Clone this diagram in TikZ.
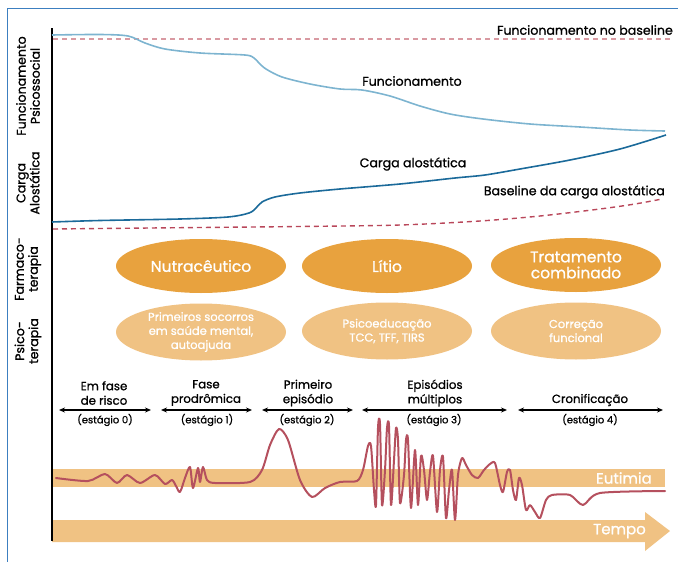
\documentclass[tikz,border=0pt]{standalone}
\usepackage{fontspec}
\setmainfont{Poppins}[FakeBold=1]
\usetikzlibrary{arrows.meta,shapes.geometric}
\definecolor{orD}{HTML}{E8A23E}
\definecolor{orL}{HTML}{F0C283}
\definecolor{funcC}{HTML}{7DB4D0}
\definecolor{cargaC}{HTML}{1B6A9A}
\definecolor{baseF}{HTML}{D99AA2}
\definecolor{baseC}{HTML}{B9475A}
\definecolor{waveC}{HTML}{B5505E}
\definecolor{frameC}{HTML}{3C7FC0}
\tikzset{
  lbl/.style={font=\fontsize{12.6}{14}\selectfont, text=black, inner sep=0pt},
  sidelbl/.style={font=\fontsize{12.6}{14}\selectfont, rotate=90, align=center, inner sep=0pt},
  bigell/.style={ellipse, fill=orD, minimum width=170pt, minimum height=54pt, text=white, align=center, font=\fontsize{15.5}{17}\selectfont, inner sep=0pt},
  smallell/.style={ellipse, fill=orL, minimum width=170pt, minimum height=57pt, text=white, align=center, font=\fontsize{11.5}{14}\selectfont, inner sep=0pt},
  stagetitle/.style={font=\fontsize{11.8}{14.5}\selectfont, align=center, inner sep=0pt},
  stagesub/.style={font=\fontsize{10}{12}\selectfont, inner sep=0pt},
  stagearrow/.style={line width=1.6pt, {Stealth[length=6pt,width=5pt]}-{Stealth[length=6pt,width=5pt]}},
  bandtext/.style={font=\fontsize{15}{17}\selectfont, text=white, inner sep=0pt, anchor=east},
}
\begin{document}
\begin{tikzpicture}[x=1pt,y=-1pt]
\useasboundingbox (0,0) rectangle (678,562);
% frame
\draw[frameC, line width=1.5pt] (7.5,562) -- (7.5,8.5) -- (678,8.5);
% bands
\fill[orL] (52,469) rectangle (665,487);
\fill[orL] (52,520) -- (645,520) -- (645,512) -- (670,531) -- (645,551) -- (645,542) -- (52,542) -- cycle;
\node[bandtext] (eut) at (652,478) {Eutimia};
\node[bandtext] (tempo) at (646,531) {Tempo};
% axis
\coordinate (axT) at (52,28);
\coordinate (axB) at (52,541);
\draw[black, line width=1.6pt] (axT) -- (axB);
% side labels
\node[sidelbl] (sl1) at (28,86) {Funcionamento\\Psicossocial};
\node[sidelbl] (sl2) at (28,183) {Carga\\Alostática};
\node[sidelbl] (sl3) at (28,269) {Farmaco-\\terapia};
\node[sidelbl] (sl4) at (28,341) {Psico-\\terapia};
% func baseline
\coordinate (fb1) at (53,39);
\coordinate (fb2) at (670,39);
\draw[baseF, line width=1.3pt, dash pattern=on 5pt off 4pt] (fb1) -- (fb2);
\node[lbl, anchor=east] (fbl) at (673,30) {Funcionamento no baseline};
% functioning curve
\draw[funcC, line width=1.6pt] plot[smooth, tension=0.5] coordinates {(52,35) (100,34.5) (128,36) (145,43) (165,49) (200,53) (245,55) (254,58) (259,63) (266,69) (282,77) (310,84) (340,89) (362,90) (390,96) (420,106) (450,114) (483,119) (530,124) (580,127) (630,130) (665,131)};
\node[lbl] (funcl) at (412,81) {Funcionamento};
% carga curve
\draw[cargaC, line width=1.6pt] plot[smooth, tension=0.5] coordinates {(52,222) (100,220.5) (180,219) (228,217) (249,213) (256,208) (262,202) (275,197) (300,193) (340,189) (400,184) (455,178) (485,175) (520,169) (570,160) (620,149) (666,135)};
\node[lbl] (cargal) at (413,164) {Carga alostática};
% carga baseline
\draw[baseC, line width=1.4pt, dash pattern=on 5pt off 4pt] plot[smooth, tension=0.5] coordinates {(53,229) (150,228) (300,226.5) (400,225) (480,221) (540,216) (600,209) (635,204) (662,199)};
\node[lbl, anchor=east] (cbl) at (665,192) {Baseline da carga alostática};
% ellipses
\node[bigell] (e1) at (201,266) {Nutracêutico};
\node[bigell] (e2) at (387,266) {Lítio};
\node[bigell] (e3) at (576,265) {Tratamento\\[-1pt]combinado};
\node[smallell] (p1) at (201,332) {Primeiros socorros\\em saúde mental,\\autoajuda};
\node[smallell] (p2) at (387,331) {Psicoeducação\\TCC, TFF, TIRS};
\node[smallell] (p3) at (576,331) {Correção\\funcional};
% stages
\node[stagetitle] (t0) at (104,393) {Em fase\\de risco};
\node[stagetitle] (t1) at (206,393) {Fase\\prodrômica};
\node[stagetitle] (t2) at (308,393) {Primeiro\\episódio};
\node[stagetitle] (t3) at (435,393) {Episódios\\múltiplos};
\node[stagetitle] (t4) at (590,400) {Cronificação};
\coordinate (a0l) at (59,410); \coordinate (a0r) at (151,410);
\coordinate (a1l) at (161,410); \coordinate (a1r) at (252,410);
\coordinate (a2l) at (262,410); \coordinate (a2r) at (353,410);
\coordinate (a3l) at (362,410); \coordinate (a3r) at (507,410);
\coordinate (a4l) at (518,410); \coordinate (a4r) at (663,410);
\draw[stagearrow] (a0l) -- (a0r);
\draw[stagearrow] (a1l) -- (a1r);
\draw[stagearrow] (a2l) -- (a2r);
\draw[stagearrow] (a3l) -- (a3r);
\draw[stagearrow] (a4l) -- (a4r);
\node[stagesub] (s0) at (105,420) {(estágio 0)};
\node[stagesub] (s1) at (207,420) {(estágio 1)};
\node[stagesub] (s2) at (307,420) {(estágio 2)};
\node[stagesub] (s3) at (434,420) {(estágio 3)};
\node[stagesub] (s4) at (590,420) {(estágio 4)};
% mood wave
\draw[waveC, line width=2pt, line join=round, line cap=round] plot[smooth, tension=0.45] coordinates {
(56,478) (88,481) (105,474) (117,483) (127,475) (140,483) (155,475) (165,484) (172,480) (176,486) (180,492) (185,478) (190,467) (193,488) (198,468) (200,482) (203,467) (207,480) (215,483) (250,482) (262,470) (270,445) (279,429) (288,440) (300,480) (312,497) (325,488) (340,482) (357,481)
(363,470) (368,446) (371,446) (374,490) (376,505) (378,428) (380,424) (382,505) (385,470) (387,428) (389,426) (391,505) (394,460) (396,428) (398,440) (400,503) (404,475) (406,440) (408,440) (411,508) (415,450) (418,505) (421,456) (424,470) (427,500) (430,472) (433,456) (437,512) (440,470) (443,457) (446,518) (449,490) (452,470) (455,520) (458,475) (462,458) (466,465) (472,475) (478,478) (484,470) (490,464) (495,463) (500,485) (503,492) (507,472) (510,470) (513,490) (516,500) (519,478) (522,485) (526,510) (530,505) (535,512) (540,518) (546,500) (552,495) (570,495) (583,505) (600,493) (665,491)};
\end{tikzpicture}
\end{document}
